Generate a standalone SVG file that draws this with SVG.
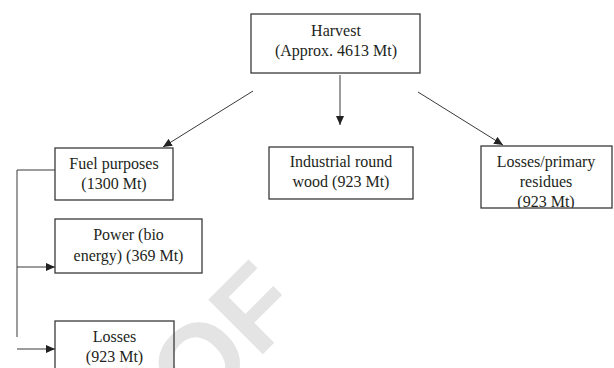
<svg xmlns="http://www.w3.org/2000/svg" width="614" height="368" viewBox="0 0 614 368">
<style>
.box{fill:none;stroke:#3a3a3a;stroke-width:1.3}
.t{font-family:"Liberation Serif","Times New Roman",serif;font-size:16px;fill:#231f20;text-anchor:middle}
.c{fill:none;stroke:#3a3a3a;stroke-width:1}
.wm{font-family:"Liberation Sans",Arial,sans-serif;font-size:112px;font-weight:bold;fill:#e4e4e4}
</style>
<defs>
<marker id="ah" markerWidth="10" markerHeight="8" refX="9" refY="4" orient="auto" markerUnits="userSpaceOnUse">
<path d="M0,0 L9,4 L0,8 Z" fill="#222"/>
</marker>
<clipPath id="clipLP"><rect x="481" y="146" width="131" height="62"/></clipPath>
</defs>
<rect width="614" height="368" fill="#fff"/>
<text class="wm" transform="translate(196,421) rotate(-45)">OF</text>
<g id="harvest">
<rect class="box" x="251" y="14" width="169" height="59"/>
<text class="t" x="336" y="36">Harvest</text>
<text class="t" x="336" y="56">(Approx. 4613 Mt)</text>
</g>
<g id="fuel">
<rect class="box" x="55" y="148" width="118" height="52"/>
<text class="t" x="114" y="169">Fuel purposes</text>
<text class="t" x="114" y="189">(1300 Mt)</text>
</g>
<g id="industrial">
<rect class="box" x="269" y="147" width="144" height="52"/>
<text class="t" x="341" y="167">Industrial round</text>
<text class="t" x="341" y="187">wood (923 Mt)</text>
</g>
<g id="losses-primary">
<g clip-path="url(#clipLP)">
<text class="t" x="546" y="167">Losses/primary</text>
<text class="t" x="546" y="187">residues</text>
<text class="t" x="546" y="207">(923 Mt)</text>
</g>
<rect class="box" x="481" y="146" width="131" height="62"/>
</g>
<g id="power">
<rect class="box" x="55" y="219" width="147" height="54"/>
<text class="t" x="128.5" y="240">Power (bio</text>
<text class="t" x="128.5" y="261">energy) (369 Mt)</text>
</g>
<g id="losses">
<rect class="box" x="55" y="321" width="119" height="60"/>
<text class="t" x="114.5" y="342">Losses</text>
<text class="t" x="114.5" y="362">(923 Mt)</text>
</g>
<g id="connectors">
<line class="c" x1="253" y1="91" x2="163" y2="147" marker-end="url(#ah)"/>
<line class="c" x1="340" y1="75" x2="340" y2="125" marker-end="url(#ah)"/>
<line class="c" x1="418" y1="92" x2="503" y2="145" marker-end="url(#ah)"/>
<path class="c" d="M55,170 H17 V337"/>
<line class="c" x1="17" y1="267" x2="55" y2="267" marker-end="url(#ah)"/>
<line class="c" x1="17" y1="349" x2="55" y2="349" marker-end="url(#ah)"/>
</g>
</svg>
